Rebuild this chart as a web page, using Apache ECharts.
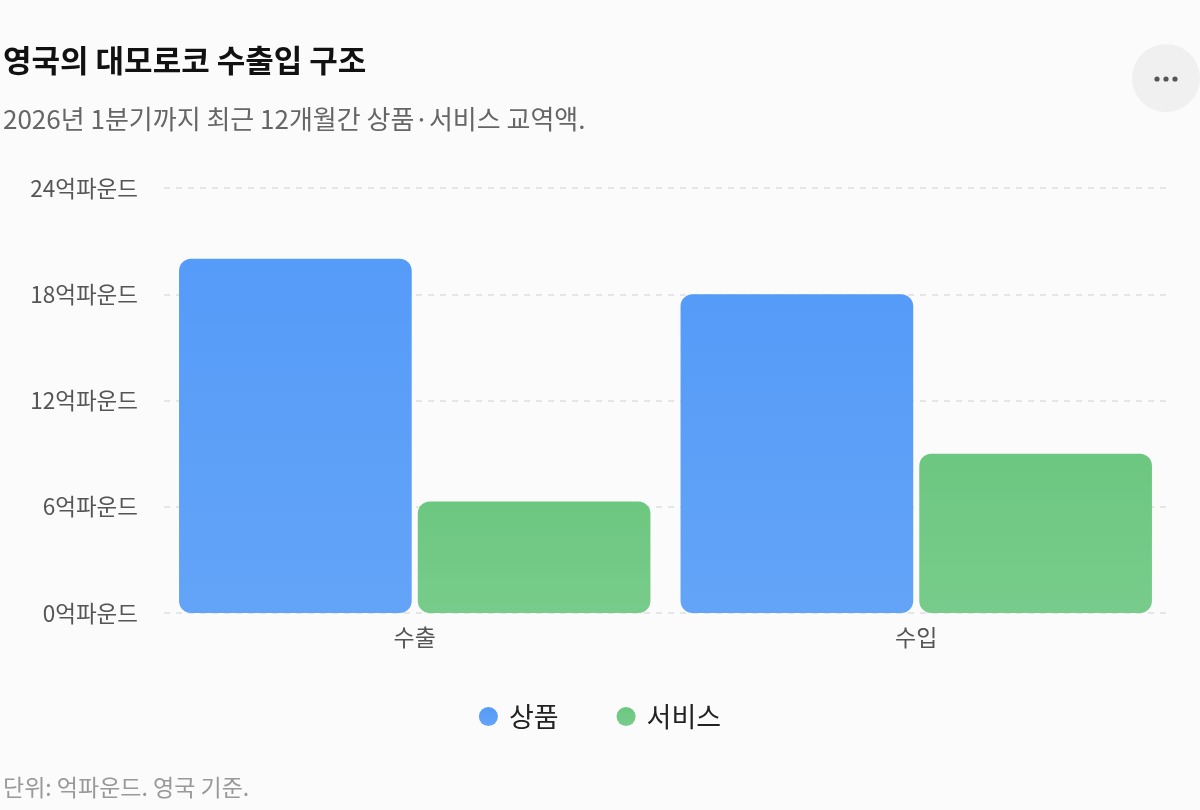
<!DOCTYPE html>
<html>
<head>
<meta charset="utf-8">
<script src="https://cdn.jsdelivr.net/npm/echarts@6/dist/echarts.min.js"></script>
<style>
html,body{margin:0;padding:0;background:#fbfbfb;}
#chart{width:1200px;height:810px;}
</style>
</head>
<body>
<div id="chart"></div>
<script>
const categories = ['수출', '수입'];
const goods = [20.0, 18.0];
const services = [6.3, 9.0];
const seriesNames = ['상품', '서비스'];
const yTicks = { min: 0, max: 24, interval: 6 };

const FONT = '"Noto Sans CJK KR", "Noto Sans", sans-serif';
const chart = echarts.init(document.getElementById('chart'));

function grad(top, bottom) {
  return new echarts.graphic.LinearGradient(0, 0, 0, 1, [
    { offset: 0, color: top },
    { offset: 1, color: bottom }
  ]);
}

chart.setOption({
  backgroundColor: '#fbfbfb',
  textStyle: { fontFamily: FONT },
  title: [
    { text: '영국의 대모로코 수출입 구조', left: -2, top: 40,
      textStyle: { fontFamily: FONT, fontSize: 31, fontWeight: 'bold', color: '#111' } },
    { text: '2026년 1분기까지 최근 12개월간 상품·서비스 교역액.', left: -2, top: 101,
      textStyle: { fontFamily: FONT, fontSize: 26, fontWeight: 'normal', color: '#666' } },
    { text: '단위: 억파운드. 영국 기준.', left: -2, top: 771,
      textStyle: { fontFamily: FONT, fontSize: 23, fontWeight: 'normal', color: '#999' } }
  ],
  graphic: [
    { type: 'circle', shape: { cx: 1166, cy: 78, r: 34 }, style: { fill: '#f0f0f0' } },
    { type: 'circle', shape: { cx: 1157, cy: 79, r: 2.6 }, style: { fill: '#555' } },
    { type: 'circle', shape: { cx: 1166, cy: 79, r: 2.6 }, style: { fill: '#555' } },
    { type: 'circle', shape: { cx: 1175, cy: 79, r: 2.6 }, style: { fill: '#555' } }
  ],
  legend: {
    data: seriesNames,
    bottom: 75,
    left: 'center',
    icon: 'circle',
    itemWidth: 19,
    itemHeight: 19,
    itemGap: 58,
    textStyle: { fontFamily: FONT, fontSize: 27, color: '#222', padding: [0, 0, 0, 6] }
  },
  grid: { left: 164, right: 33, top: 188, bottom: 197, containLabel: false },
  xAxis: {
    type: 'category',
    data: categories,
    axisLine: { show: false },
    axisTick: { show: false },
    axisLabel: { fontFamily: FONT, fontSize: 23, color: '#555', margin: 13 }
  },
  yAxis: {
    type: 'value',
    min: yTicks.min,
    max: yTicks.max,
    interval: yTicks.interval,
    axisLine: { show: false },
    axisTick: { show: false },
    axisLabel: { fontFamily: FONT, fontSize: 22.5, color: '#555', margin: 26,
      formatter: '{value}억파운드' },
    splitLine: { lineStyle: { color: '#e0e0e0', type: [6, 6], width: 1.5 } }
  },
  series: [
    { name: seriesNames[0], type: 'bar', data: goods,
      barCategoryGap: '6%', barGap: '2.6%',
      itemStyle: { color: grad('#559bf8', '#63a4f8'), borderRadius: 12 },
      emphasis: { disabled: true } },
    { name: seriesNames[1], type: 'bar', data: services,
      itemStyle: { color: grad('#6cc780', '#78cc8b'), borderRadius: 12 },
      emphasis: { disabled: true } }
  ]
});
</script>
</body>
</html>
